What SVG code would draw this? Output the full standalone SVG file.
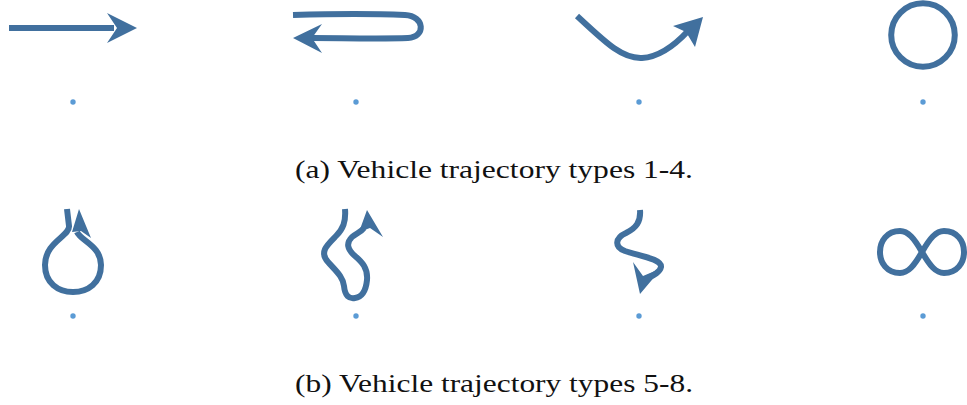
<svg xmlns="http://www.w3.org/2000/svg" width="967" height="405" viewBox="0 0 967 405">
<style>
.trk{fill:none;stroke:#41709e;stroke-width:6;stroke-linecap:butt;stroke-linejoin:round}
.hd{fill:#41709e;stroke:none}
.dot{fill:#5b9bd5}
.cap{font-family:"Liberation Serif","DejaVu Serif",serif;font-size:25px;fill:#111}
</style>
<rect width="967" height="405" fill="#fff"/>
<g id="connectors">
</g>
<g id="t1">
<path class="trk" d="M9,28 H114"/>
<polygon class="hd" points="137,28 107,13 117,28 107,43"/>
<circle class="dot" cx="73" cy="102" r="2.7"/>
</g>
<g id="t2">
<path class="trk" d="M293,15 C330,14 380,14 405,15 C425,16 426,37 408,38 C380,39 340,38 312,38"/>
<polygon class="hd" points="293,38 322,24 312,38 322,53"/>
<circle class="dot" cx="356" cy="102" r="2.7"/>
</g>
<g id="t3">
<path class="trk" d="M577,16 C605,42 622,59 642,58 C660,57 675,45 688,31"/>
<polygon class="hd" points="703,17 673,26 686,32 695,47"/>
<circle class="dot" cx="639" cy="102" r="2.7"/>
</g>
<g id="t4">
<circle class="trk" cx="923" cy="35" r="31.8" stroke-width="6.5"/>
<circle class="dot" cx="923" cy="102" r="2.7"/>
</g>
<g id="t5">
<path class="trk" d="M67,209 L69,226 C70,236 45,242 45,265 C45,283 58,292 73,292 C88,292 101,283 101,265 C101,246 81,241 77,232"/>
<polygon class="hd" points="79,209 91,238 81,231 72,232"/>
<circle class="dot" cx="73" cy="316" r="2.7"/>
</g>
<g id="t6">
<path class="trk" d="M345,209 C346,222 343,229 336,236 C327,245 319,252 328,262 C337,272 343,277 344,286 C345,296 349,299 355,298 C362,297 366,290 367,280 C368,268 362,262 355,256 C347,249 346,243 352,237 C357,233 361,232 364,228"/>
<polygon class="hd" points="367,210 383,237 370,228 359,232"/>
<circle class="dot" cx="356" cy="316" r="2.7"/>
</g>
<g id="t7">
<path class="trk" d="M640,210 C641,222 636,228 626,233 C615,238 614,247 625,251 C640,256 662,259 661,267 C660,272 654,275 648,278"/>
<polygon class="hd" points="640,294 633,262 643,276 662,268"/>
<circle class="dot" cx="639" cy="316" r="2.7"/>
</g>
<g id="t8">
<path class="trk" stroke-width="6.5" d="M922,252 C930,238 936,231 944,231 C957,231 964,241 964,252 C964,263 957,273 944,273 C936,273 930,266 922,252 C914,238 908,231 900,231 C887,231 880,241 880,252 C880,263 887,273 900,273 C908,273 914,266 922,252 Z"/>
<circle class="dot" cx="923" cy="316" r="2.7"/>
</g>
<text class="cap" x="295" y="178" textLength="398" lengthAdjust="spacingAndGlyphs">(a) Vehicle trajectory types 1-4.</text>
<text class="cap" x="295" y="392" textLength="398" lengthAdjust="spacingAndGlyphs">(b) Vehicle trajectory types 5-8.</text>
</svg>
